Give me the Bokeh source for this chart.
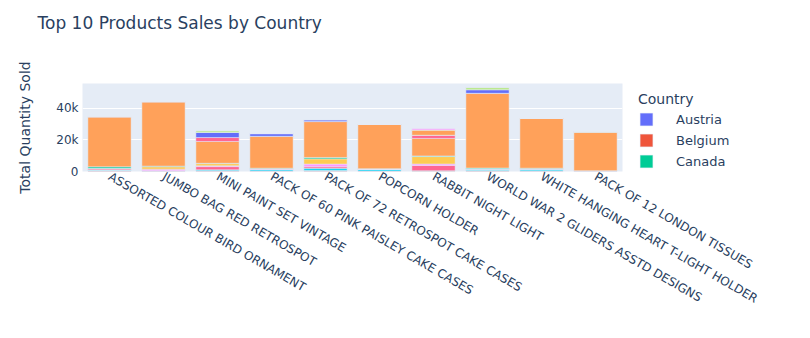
import math
from bokeh.plotting import figure
from bokeh.models import ColumnDataSource, FactorRange, Range1d, FixedTicker, Legend, LegendItem, Title
from bokeh.embed import file_html
from bokeh.resources import INLINE

products = [
    "ASSORTED COLOUR BIRD ORNAMENT",
    "JUMBO BAG RED RETROSPOT",
    "MINI PAINT SET VINTAGE",
    "PACK OF 60 PINK PAISLEY CAKE CASES",
    "PACK OF 72 RETROSPOT CAKE CASES",
    "POPCORN HOLDER",
    "RABBIT NIGHT LIGHT",
    "WORLD WAR 2 GLIDERS ASSTD DESIGNS",
    "WHITE HANGING HEART T-LIGHT HOLDER",
    "PACK OF 12 LONDON TISSUES",
]

# quantities per country (stack order, bottom to top)
austria = [200, 100, 150, 100, 200, 100, 150, 200, 100, 100]
belgium = [300, 200, 250, 150, 300, 150, 200, 300, 200, 150]
canada = [100, 50, 100, 50, 100, 50, 100, 100, 100, 50]
denmark = [300, 150, 600, 900, 1400, 1000, 0, 900, 1100, 0]
eire = [700, 0, 2000, 0, 1000, 0, 3400, 0, 0, 0]
france = [300, 1000, 500, 600, 1700, 300, 900, 300, 300, 200]
germany = [200, 1500, 1400, 0, 3300, 0, 4700, 0, 0, 0]
netherlands = [900, 400, 200, 300, 900, 200, 400, 400, 300, 0]
united_kingdom = [31700, 40800, 13800, 20200, 22700, 28100, 11100, 47300, 31600, 24600]
australia = [0, 0, 2500, 0, 0, 0, 2000, 0, 0, 0]
japan = [0, 0, 3200, 1700, 1200, 0, 0, 2300, 0, 0]
sweden = [0, 0, 0, 0, 0, 0, 3300, 0, 0, 0]
spain = [0, 0, 1100, 0, 0, 0, 0, 1300, 0, 0]
norway = [0, 0, 0, 0, 0, 0, 750, 0, 0, 0]

countries = ["Austria", "Belgium", "Canada", "Denmark", "EIRE", "France", "Germany",
             "Netherlands", "United Kingdom", "Australia", "Japan", "Sweden", "Spain", "Norway"]
series = [austria, belgium, canada, denmark, eire, france, germany,
          netherlands, united_kingdom, australia, japan, sweden, spain, norway]
colors = ["#636EFA", "#EF553B", "#00CC96", "#19D3F3", "#FF6692", "#FF97FF", "#FECB52",
          "#00CC96", "#FFA15A", "#FF6692", "#636EFA", "#FFA15A", "#B6E880", "#FF97FF"]
legend_shown = ["Austria", "Belgium", "Canada"]

y_ticks = [0, 20000, 40000]
y_tick_labels = ["0", "20k", "40k"]

FONT = "DejaVu Sans"
TXT = "#2a3f5f"

data = {"product": products}
for c, s in zip(countries, series):
    data[c] = s
source = ColumnDataSource(data)

p = figure(x_range=FactorRange(*products), y_range=Range1d(0, 55700), title=None,
           frame_width=540, frame_height=88, output_backend="svg", toolbar_location=None,
           min_border_left=82, min_border_right=188, min_border_top=83, min_border_bottom=167,
           background_fill_color="#E5ECF6", border_fill_color="white")
p.outline_line_color = None

renderers = p.vbar_stack(countries, x="product", width=0.8, source=source,
                         fill_color=colors, line_color="#E5ECF6", line_width=0.5)

items = [LegendItem(label=c, renderers=[r]) for c, r in zip(countries, renderers) if c in legend_shown]
legend = Legend(items=items, title="Country", location=(16, 2),
                background_fill_alpha=0, border_line_color=None, padding=0, margin=0,
                glyph_width=16, glyph_height=16, label_height=16, spacing=5, label_standoff=22,
                title_standoff=4,
                label_text_font=FONT, label_text_font_size="13px", label_text_color=TXT,
                title_text_font=FONT, title_text_font_size="14px", title_text_color=TXT,
                title_text_font_style="normal")
p.add_layout(legend, "right")

spacer = Title(text=" ", text_font_size="1px", standoff=46, vertical_align="top")
p.add_layout(spacer, "above")
main_title = Title(text="Top 10 Products Sales by Country", text_font=FONT, text_font_size="17px",
                   text_font_style="normal", text_color=TXT, align="left", vertical_align="top",
                   offset=-45, standoff=0)
p.add_layout(main_title, "above")

p.xgrid.grid_line_color = None
p.ygrid.grid_line_color = "white"
p.ygrid.grid_line_width = 1

p.yaxis.ticker = FixedTicker(ticks=y_ticks)
p.yaxis.major_label_overrides = {t: l for t, l in zip(y_ticks, y_tick_labels)}
p.yaxis.axis_label = "Total Quantity Sold"
p.yaxis.axis_label_text_font = FONT
p.yaxis.axis_label_text_font_size = "14px"
p.yaxis.axis_label_text_font_style = "normal"
p.yaxis.axis_label_text_color = TXT
p.yaxis.axis_label_standoff = 20

for ax in (p.xaxis, p.yaxis):
    ax.axis_line_color = None
    ax.major_tick_line_color = None
    ax.minor_tick_line_color = None
    ax.major_tick_out = 0
    ax.major_tick_in = 0
    ax.major_label_text_font = FONT
    ax.major_label_text_font_size = "12px"
    ax.major_label_text_color = TXT

p.yaxis.major_label_standoff = 4
p.xaxis.major_label_standoff = 4
p.xaxis.major_label_orientation = -math.pi / 6

open("out.html", "w").write(file_html(p, INLINE))
